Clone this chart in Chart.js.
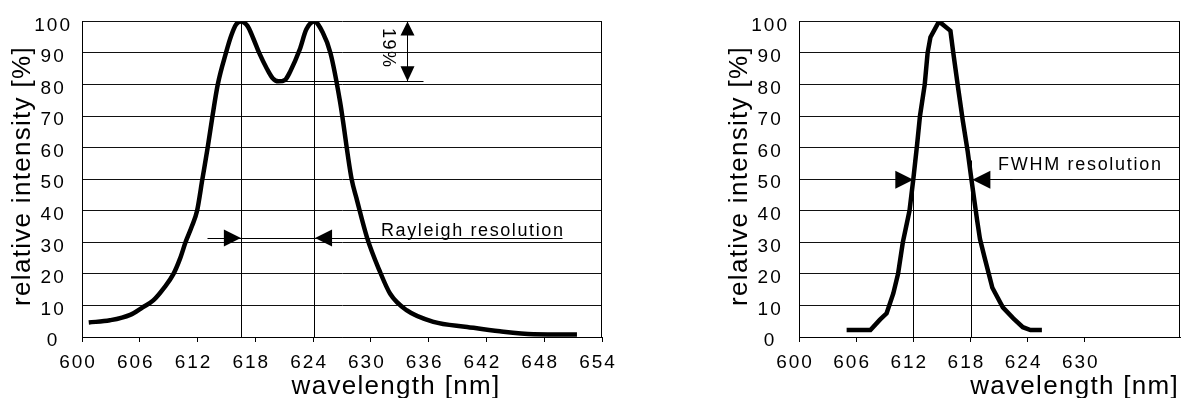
<!DOCTYPE html>
<html>
<head>
<meta charset="utf-8">
<title>Spectral resolution</title>
<script src="https://cdn.jsdelivr.net/npm/chart.js@4/dist/chart.umd.min.js"></script>
<style>
  body { margin: 0; background: #fff; }
  .wrap { position: relative; width: 1181px; height: 398px; }
  canvas { position: absolute; top: 0; }
  #rayleigh { left: 0; }
  #fwhm { left: 717px; }
</style>
</head>
<body>
<div class="wrap">
  <canvas id="rayleigh" width="640" height="398"></canvas>
  <canvas id="fwhm" width="464" height="398"></canvas>
</div>
<script>
// two overlapping lines (Rayleigh criterion)
const rayleighNm = [600.7, 602.9, 605.0, 606.3, 607.4, 608.5, 609.5, 610.2, 610.75, 611.4, 611.95, 612.5, 613.05, 613.55, 614.1, 614.95, 615.5, 616.0, 616.5, 617.2, 617.8, 618.4, 619.2, 619.8, 620.4, 621.1, 621.6, 622.6, 623.3, 624.1, 625.0, 625.8, 626.8, 628.0, 628.5, 629.6, 630.9, 632.0, 633.7, 636.5, 640.0, 643.4, 646.9, 651.4];
const rayleighIntensity = [4.6, 5.3, 7.0, 9.4, 11.6, 15.5, 20, 25, 30, 35, 40, 50, 60, 70, 80, 90, 95.5, 99, 100, 98.5, 94.5, 90, 85, 82, 81, 81.5, 84, 91, 97.5, 100, 96.5, 90, 74.5, 50, 44, 31.5, 21, 13.7, 8.5, 4.8, 3.2, 1.8, 0.9, 0.8];

// single line (full width at half maximum)
const fwhmNm = [605.0, 607.5, 608.5, 609.2, 609.9, 610.4, 610.9, 611.6, 612.0, 612.4, 612.7, 613.2, 613.5, 613.8, 614.7, 615.9, 616.2, 616.7, 617.2, 617.7, 618.1, 618.7, 619.0, 619.5, 620.3, 621.4, 622.5, 623.5, 624.3, 625.5];
const fwhmIntensity = [2.2, 2.2, 5.5, 7.5, 13.8, 20, 30, 40, 50, 61, 70, 80, 90, 95, 100, 97, 90, 79, 68.5, 59, 50, 37, 31, 25, 15.6, 9.4, 5.9, 3.1, 2.2, 2.2];

const intensityTicks = [0, 10, 20, 30, 40, 50, 60, 70, 80, 90, 100];
const rayleighTicks = [600, 606, 612, 618, 624, 630, 636, 642, 648, 654];
const fwhmTicks = [600, 606, 612, 618, 624, 630];

// marker positions in nm, levels in %
const rayleighPeaks = [616.5, 624.1];
const rayleighLevel = 31.5;
const rayleighSpan = [612.95, 649.8];
const dipLevel = 81;
const dipSpan = [620.2, 635.4];
const dipArrowNm = 633.75;
const fwhmEdges = [612.0, 618.1];
const fwhmLevel = 50;
const fwhmLineEnd = 622.4;

const FONT = "'Liberation Sans', Arial, sans-serif";
Chart.defaults.font.family = FONT;
Chart.defaults.color = "#000";

function points(xs, ys) {
  return xs.map((x, i) => ({ x: x, y: ys[i] }));
}

function arrowHead(ctx, x, y, dir, len, half) {
  ctx.beginPath();
  ctx.moveTo(x, y);
  if (dir === "right") { ctx.lineTo(x - len, y - half); ctx.lineTo(x - len, y + half); }
  if (dir === "left") { ctx.lineTo(x + len, y - half); ctx.lineTo(x + len, y + half); }
  if (dir === "up") { ctx.lineTo(x - half, y + len); ctx.lineTo(x + half, y + len); }
  if (dir === "down") { ctx.lineTo(x - half, y - len); ctx.lineTo(x + half, y - len); }
  ctx.closePath();
  ctx.fill();
}

function line(ctx, x1, y1, x2, y2) {
  ctx.beginPath();
  ctx.moveTo(Math.round(x1) + 0.5, Math.round(y1) + 0.5);
  ctx.lineTo(Math.round(x2) + 0.5, Math.round(y2) + 0.5);
  ctx.stroke();
}

function label(ctx, text, x, y, size, spacing, align) {
  ctx.font = size + "px " + FONT;
  ctx.letterSpacing = spacing + "px";
  ctx.textAlign = align || "left";
  ctx.fillText(text, x, y);
}

// the tick labels of the original are widely spaced
const tickSpacing = {
  id: "tickSpacing",
  beforeUpdate(chart) { chart.ctx.letterSpacing = "2px"; },
  beforeDraw(chart) { chart.ctx.letterSpacing = "2px"; }
};

function axisTitles(ctx, area, xTitleX, xAlign) {
  ctx.save();
  ctx.fillStyle = "#000";
  ctx.textBaseline = "alphabetic";
  label(ctx, "wavelength [nm]", xTitleX, 394, 26, 1.3, xAlign);
  ctx.translate(area.left - 59, 176);
  ctx.rotate(-Math.PI / 2);
  ctx.textBaseline = "middle";
  label(ctx, "relative intensity [%]", 0, 0, 26, 1.3, "center");
  ctx.restore();
}

function frameRight(ctx, area) {
  ctx.strokeStyle = "#000";
  ctx.lineWidth = 1;
  line(ctx, area.right - 1, area.top, area.right - 1, area.bottom);
}

function baseOptions(xMax, xTicks) {
  return {
    responsive: false,
    animation: false,
    events: [],
    plugins: { legend: { display: false }, tooltip: { enabled: false } },
    scales: {
      x: {
        type: "linear",
        min: 600,
        max: xMax,
        afterBuildTicks: (scale) => { scale.ticks = xTicks.map((v) => ({ value: v })); },
        afterFit: (scale) => { scale.height = 61; },
        grid: { display: true, drawOnChartArea: false, drawTicks: true, tickLength: 5, tickColor: "#000" },
        border: { display: true, color: "#000", width: 1 },
        ticks: { font: { size: 19 }, padding: 9, labelOffset: -4, maxRotation: 0, autoSkip: false }
      },
      y: {
        min: 0,
        max: 100,
        afterBuildTicks: (scale) => { scale.ticks = intensityTicks.map((v) => ({ value: v })); },
        afterFit: (scale) => { scale.width = 82; },
        grid: { color: "#111", lineWidth: 1, drawTicks: false },
        border: { display: true, color: "#000", width: 1 },
        ticks: { font: { size: 19 }, padding: 10, crossAlign: "center", labelOffset: 4 }
      }
    }
  };
}

// --- Rayleigh resolution ---
const rayleighNotes = {
  id: "rayleighNotes",
  afterDatasetsDraw(chart) {
    const ctx = chart.ctx;
    const x = chart.scales.x;
    const y = chart.scales.y;
    const area = chart.chartArea;
    ctx.save();
    ctx.strokeStyle = "#000";
    ctx.fillStyle = "#000";
    ctx.lineWidth = 1;
    frameRight(ctx, area);

    // vertical lines through both maxima
    rayleighPeaks.forEach((nm) => {
      line(ctx, x.getPixelForValue(nm), y.getPixelForValue(100), x.getPixelForValue(nm), y.getPixelForValue(0));
    });

    // separation of the maxima
    const ry = y.getPixelForValue(rayleighLevel);
    line(ctx, x.getPixelForValue(rayleighSpan[0]), ry, x.getPixelForValue(rayleighSpan[1]), ry);
    arrowHead(ctx, x.getPixelForValue(rayleighPeaks[0]), ry + 0.5, "right", 17, 8.5);
    arrowHead(ctx, x.getPixelForValue(rayleighPeaks[1]) + 1, ry + 0.5, "left", 17, 8.5);
    label(ctx, "Rayleigh resolution", x.getPixelForValue(631.05), ry - 2, 18, 1.6, "left");

    // depth of the dip between the maxima
    const dy = y.getPixelForValue(dipLevel);
    const ty = y.getPixelForValue(100);
    const ax = x.getPixelForValue(dipArrowNm);
    line(ctx, x.getPixelForValue(dipSpan[0]), dy, x.getPixelForValue(dipSpan[1]), dy);
    line(ctx, ax, ty, ax, dy);
    arrowHead(ctx, ax + 0.5, ty, "up", 14, 7);
    arrowHead(ctx, ax + 0.5, dy, "down", 15, 7);
    ctx.translate(x.getPixelForValue(631.8), y.getPixelForValue(91.5));
    ctx.rotate(Math.PI / 2);
    ctx.textBaseline = "middle";
    label(ctx, "19%", 0, 0, 18, 1.5, "center");
    ctx.restore();

    axisTitles(ctx, area, 396, "center");
  }
};

new Chart(document.getElementById("rayleigh"), {
  type: "line",
  data: {
    datasets: [{
      data: points(rayleighNm, rayleighIntensity),
      borderColor: "#000",
      borderWidth: 4.5,
      pointRadius: 0,
      cubicInterpolationMode: "monotone"
    }]
  },
  options: Object.assign(baseOptions(654, rayleighTicks), {
    layout: { padding: { top: 19, right: 38, bottom: 0, left: 0 } }
  }),
  plugins: [tickSpacing, rayleighNotes]
});

// --- FWHM resolution ---
const fwhmNotes = {
  id: "fwhmNotes",
  afterDatasetsDraw(chart) {
    const ctx = chart.ctx;
    const x = chart.scales.x;
    const y = chart.scales.y;
    const area = chart.chartArea;
    ctx.save();
    ctx.strokeStyle = "#000";
    ctx.fillStyle = "#000";
    ctx.lineWidth = 1;
    frameRight(ctx, area);

    const hy = y.getPixelForValue(fwhmLevel);
    fwhmEdges.forEach((nm) => {
      line(ctx, x.getPixelForValue(nm), y.getPixelForValue(56), x.getPixelForValue(nm), y.getPixelForValue(0));
    });
    line(ctx, x.getPixelForValue(fwhmEdges[1]), hy, x.getPixelForValue(fwhmLineEnd), hy);
    arrowHead(ctx, x.getPixelForValue(fwhmEdges[0]), hy + 0.5, "right", 18, 9);
    arrowHead(ctx, x.getPixelForValue(fwhmEdges[1]) + 1, hy + 0.5, "left", 18, 9);
    label(ctx, "FWHM resolution", x.getPixelForValue(620.9), y.getPixelForValue(52.8), 18, 1.7, "left");
    ctx.restore();

    axisTitles(ctx, area, area.right - 1, "right");
  }
};

new Chart(document.getElementById("fwhm"), {
  type: "line",
  data: {
    datasets: [{
      data: points(fwhmNm, fwhmIntensity),
      borderColor: "#000",
      borderWidth: 4.5,
      pointRadius: 0,
      tension: 0
    }]
  },
  options: Object.assign(baseOptions(640, fwhmTicks), {
    layout: { padding: { top: 17, right: 1, bottom: 0, left: 0 } }
  }),
  plugins: [tickSpacing, fwhmNotes]
});
</script>
</body>
</html>
